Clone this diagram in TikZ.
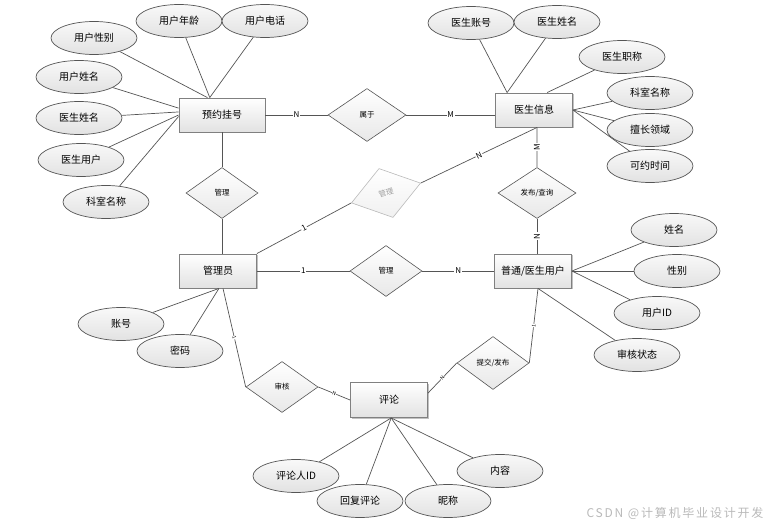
\documentclass[tikz,border=0pt]{standalone}
\usepackage{fontspec}
\setmainfont{Noto Sans CJK SC}
\newfontfamily\wmfont[LetterSpace=15]{Noto Sans CJK SC}
\usetikzlibrary{shapes.geometric,shadows}
\definecolor{edge}{RGB}{85,85,85}
\definecolor{shade}{RGB}{226,226,226}
\tikzset{
	entity/.style={draw=edge!75, line width=0.9pt, top color=white, bottom color=shade, minimum width=77pt, minimum height=34pt, inner sep=0pt, font=\fontsize{10}{12}\selectfont, drop shadow={shadow xshift=1.3pt, shadow yshift=-1.3pt, fill=gray!60, opacity=0.8}},
	relation/.style={diamond, draw=edge, line width=0.6pt, top color=white, bottom color=shade!80, minimum width=72pt, minimum height=51pt, inner sep=0pt, font=\fontsize{7.5}{9}\selectfont},
	attr/.style={ellipse, draw=edge, line width=0.7pt, top color=white!95!gray, bottom color=shade, minimum width=86pt, minimum height=33pt, inner sep=0pt, font=\fontsize{10}{12}\selectfont},
	card/.style={fill=white, inner sep=0.8pt, font=\fontsize{8}{9}\selectfont},
	tinycard/.style={fill=white, inner sep=0.3pt, font=\fontsize{5}{6}\selectfont, sloped},
	link/.style={draw=edge, line width=0.7pt},
}
\begin{document}
\begin{tikzpicture}[x=1pt, y=-1pt]
	\useasboundingbox (0,0) rectangle (777,529);
	% entities
	\node[entity, minimum width=86pt] (yygh) at (222,115) {预约挂号};
	\node[entity] (ysxx) at (534,110) {医生信息};
	\node[entity] (gly) at (218,271) {管理员};
	\node[entity] (ptyh) at (533,271) {普通/医生用户};
	\node[entity, minimum height=35pt] (pl) at (389,400) {评论};
	% relations
	\node[relation, minimum width=78pt, minimum height=53pt] (sy) at (367,115) {属于};
	\node[relation] (gl1) at (222,193) {管理};
	\node[relation, draw=gray!55, text=gray!75, bottom color=shade!50, rotate=16] (gl2) at (386,193) {管理};
	\node[relation] (gl3) at (386,271) {管理};
	\node[relation, minimum width=78pt] (fbcx) at (537,193) {发布/查询};
	\node[relation] (sh) at (282,387) {审核};
	\node[relation, minimum height=53pt] (tjfb) at (493,363) {提交/发布};
	% attributes
	\node[attr] (yxb) at (94,38) {用户性别};
	\node[attr] (ynl) at (179,21) {用户年龄};
	\node[attr] (ydh) at (265,21) {用户电话};
	\node[attr] (yxm) at (79,77) {用户姓名};
	\node[attr] (yysxm) at (79,118) {医生姓名};
	\node[attr] (yysyh) at (81,160) {医生用户};
	\node[attr] (yksmc) at (106,202) {科室名称};
	\node[attr] (szh) at (471,23) {医生账号};
	\node[attr] (sxm) at (557,22) {医生姓名};
	\node[attr] (szc) at (622,57) {医生职称};
	\node[attr] (sksmc) at (650,93) {科室名称};
	\node[attr] (slyu) at (650,130) {擅长领域};
	\node[attr] (ssj) at (650,166) {可约时间};
	\node[attr] (pxm) at (674,230) {姓名};
	\node[attr] (pxb) at (677,271) {性别};
	\node[attr] (pid) at (657,313) {用户ID};
	\node[attr] (pzt) at (637,355) {审核状态};
	\node[attr] (gzh) at (121,324) {账号};
	\node[attr] (gmm) at (180,351) {密码};
	\node[attr] (lid) at (296,476) {评论人ID};
	\node[attr] (lhf) at (360,501) {回复评论};
	\node[attr] (lnc) at (448,501) {昵称};
	\node[attr] (lnr) at (500,471) {内容};
	% attribute links
	\draw[link] (yxb) -- (yygh.130);
	\draw[link] (ynl) -- (yygh.125);
	\draw[link] (ydh) -- (yygh.125);
	\draw[link] (yxm) -- (yygh.171);
	\draw[link] (yysxm) -- (yygh.176);
	\draw[link] (yysyh) -- (yygh.180);
	\draw[link] (yksmc) -- (yygh.182);
	\draw[link] (szh) -- (ysxx.147);
	\draw[link] (sxm) -- (ysxx.147);
	\draw[link] (szc) -- (ysxx.53);
	\foreach \a in {sksmc,slyu,ssj}
		\draw[link] (\a) -- (ysxx.east);
	\foreach \a in {pxm,pxb,pid}
		\draw[link] (\a) -- (ptyh.east);
	\draw[link] (pzt) -- (ptyh.-74);
	\draw[link] (gzh) -- (gly.-87);
	\draw[link] (gmm) -- (gly.-87);
	\foreach \a in {lid,lhf,lnc,lnr}
		\draw[link] (\a) -- (pl.-83);
	% relation links
	\draw[link] (yygh.east) -- node[card]{N} (sy.west);
	\draw[link] (sy.east) -- node[card]{M} (sy.east -| ysxx.west);
	\draw[link] (yygh.south) -- (gl1.north);
	\draw[link] (gl1.south) -- (gl1.south |- gly.north);
	\draw[link] (gly.north east) -- node[card, sloped]{1} (gl2.west);
	\draw[link] (gl2.east) -- node[card, sloped]{N} (ysxx.-80);
	\draw[link] (ysxx.-80) -- node[card, rotate=90]{M} (fbcx.north);
	\draw[link] (fbcx.south) -- node[card, rotate=90]{N} (fbcx.south |- ptyh.north);
	\draw[link] (gly.east) -- node[card]{1} (gl3.west);
	\draw[link] (gl3.east) -- node[card]{N} (ptyh.west);
	\draw[link] (gly.-74) -- node[tinycard]{1} (sh.west);
	\draw[link] (sh.east) -- node[tinycard]{N} (pl.west);
	\draw[link] (tjfb.west) -- node[tinycard]{N} (pl.10);
	\draw[link] (ptyh.-74) -- node[tinycard]{1} (tjfb.east);
	\node[text=gray!55, font=\wmfont\fontsize{12}{14}\selectfont] (wm) at (675,513) {CSDN @计算机毕业设计开发};
\end{tikzpicture}
\end{document}
